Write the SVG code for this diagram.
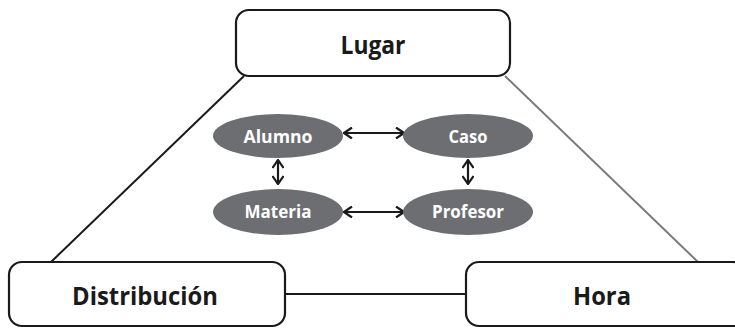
<svg xmlns="http://www.w3.org/2000/svg" width="735" height="328" viewBox="0 0 735 328">
<style>
.box{fill:#fff;stroke:#1a1a1a;stroke-width:2.2}
.bt{font-family:"Open Sans","Liberation Sans",sans-serif;font-weight:bold;font-size:25px;fill:#1a1a1a;text-anchor:middle}
.ell{fill:#6d6e71}
.et{font-family:"Open Sans","Liberation Sans",sans-serif;font-weight:bold;font-size:17px;fill:#fff;text-anchor:middle}
.ln{fill:none;stroke:#1a1a1a;stroke-width:2}
.ar{fill:none;stroke:#1a1a1a;stroke-width:2.2;marker-start:url(#h);marker-end:url(#h)}
</style>
<defs>
<marker id="h" viewBox="0 0 10 12" refX="9" refY="6" markerWidth="10" markerHeight="12" markerUnits="userSpaceOnUse" orient="auto-start-reverse">
<path d="M1,0.5 L9,6 L1,11.5" fill="none" stroke="#1a1a1a" stroke-width="2.2"/>
</marker>
</defs>
<g id="connectors">
<line class="ln" x1="244" y1="76" x2="51" y2="262"/>
<line class="ln" x1="505" y1="76" x2="698" y2="262" style="stroke:#7a7a7a"/>
<line class="ln" x1="285" y1="294" x2="466" y2="294"/>
<line class="ar" x1="344" y1="133" x2="404" y2="133"/>
<line class="ar" x1="344" y1="212" x2="404" y2="212"/>
<line class="ar" x1="278" y1="160" x2="278" y2="184"/>
<line class="ar" x1="468" y1="160" x2="468" y2="184"/>
</g>
<g id="lugar"><rect class="box" x="236" y="10" width="274" height="66" rx="13"/><text class="bt" x="373" y="54" textLength="65" lengthAdjust="spacingAndGlyphs">Lugar</text></g>
<g id="distribucion"><rect class="box" x="9" y="262" width="276" height="64" rx="13"/><text class="bt" x="145" y="305" textLength="146" lengthAdjust="spacingAndGlyphs">Distribución</text></g>
<g id="hora"><rect class="box" x="466" y="262" width="280" height="64" rx="13"/><text class="bt" x="602" y="305" textLength="58" lengthAdjust="spacingAndGlyphs">Hora</text></g>
<g id="alumno"><ellipse class="ell" cx="278" cy="136" rx="65" ry="22"/><text class="et" x="278" y="143" textLength="69" lengthAdjust="spacingAndGlyphs">Alumno</text></g>
<g id="caso"><ellipse class="ell" cx="468" cy="136" rx="65" ry="22"/><text class="et" x="468" y="143" textLength="39" lengthAdjust="spacingAndGlyphs">Caso</text></g>
<g id="materia"><ellipse class="ell" cx="278" cy="212" rx="65" ry="23"/><text class="et" x="278" y="218" textLength="67" lengthAdjust="spacingAndGlyphs">Materia</text></g>
<g id="profesor"><ellipse class="ell" cx="468" cy="212" rx="65" ry="23"/><text class="et" x="468" y="218" textLength="72" lengthAdjust="spacingAndGlyphs">Profesor</text></g>
</svg>
